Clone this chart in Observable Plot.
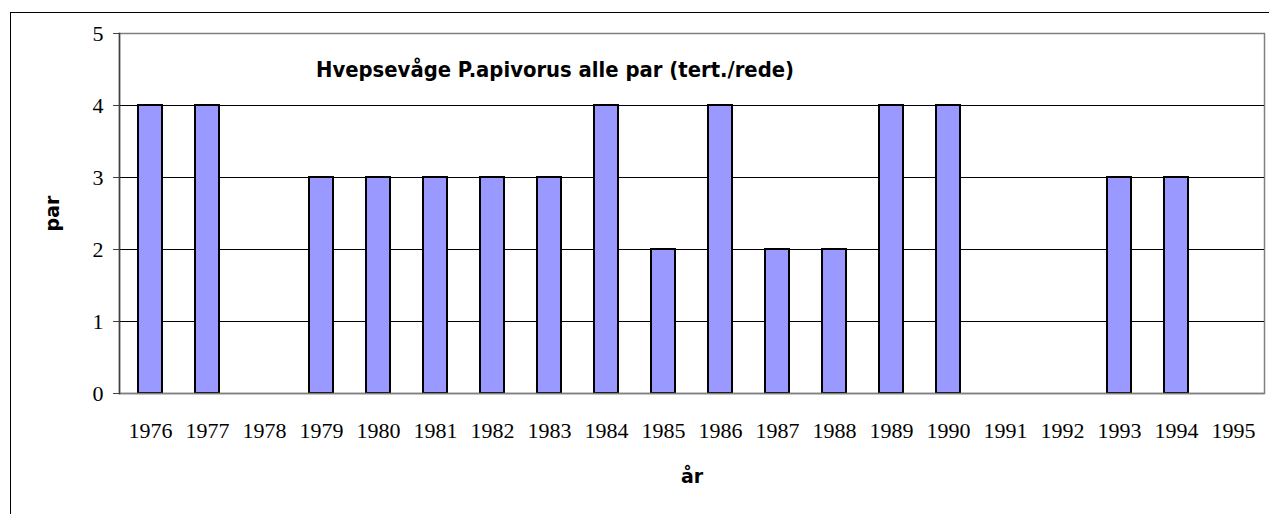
<!DOCTYPE html>
<html>
<head>
<meta charset="utf-8">
<script src="https://cdn.jsdelivr.net/npm/d3@7"></script>
<script src="https://cdn.jsdelivr.net/npm/@observablehq/plot@0.6"></script>
<style>
  html, body { margin: 0; padding: 0; background: #fff; }
  #wrap { position: relative; width: 1269px; height: 514px; overflow: hidden; }
  #border { position: absolute; left: 10px; top: 12px; width: 1300px; height: 600px; border-left: 1.5px solid #000; border-top: 1.5px solid #000; pointer-events: none; }
  #chart { position: absolute; left: 0; top: 0; }
</style>
</head>
<body>
<div id="wrap"><div id="chart"></div><div id="border"></div></div>
<script>
const years = ["1976","1977","1978","1979","1980","1981","1982","1983","1984","1985","1986","1987","1988","1989","1990","1991","1992","1993","1994","1995"];
const pairs = [4,4,0,3,3,3,3,3,4,2,4,2,2,4,4,0,0,3,3,0];
const yTicks = [0,1,2,3,4,5];
const titleText = "Hvepsevåge P.apivorus alle par (tert./rede)";
const yLabel = "par";
const xLabel = "år";

const data = years.map((y, i) => ({year: y, value: pairs[i]}));
const sans = "'DejaVu Sans', Verdana, sans-serif";

const chart = Plot.plot({
  width: 1269,
  height: 514,
  marginLeft: 119,
  marginRight: 5,
  marginTop: 33,
  marginBottom: 121,
  style: {fontFamily: "'Liberation Serif', 'Times New Roman', serif", fontSize: "22px", color: "#000", background: "transparent"},
  x: {type: "band", domain: years, paddingInner: 0.58, paddingOuter: 0.29, label: null},
  y: {domain: [0, 5], label: null},
  marks: [
    Plot.frame({stroke: "#808080", strokeWidth: 1.5}),
    Plot.ruleY([1,2,3,4], {stroke: "#000", strokeWidth: 1}),
    Plot.barY(data.filter(d => d.value > 0), {x: "year", y: "value", fill: "#9999FF", stroke: "#000", strokeWidth: 2}),
    Plot.ruleY([0], {stroke: "#808080", strokeWidth: 1.5}),
    Plot.frame({anchor: "left", stroke: "#404040", strokeWidth: 1.5}),
    Plot.axisY(yTicks, {tickSize: 6, tickPadding: 10, stroke: "#404040", tickFormat: d3.format("d"), fontSize: 22}),
    Plot.axisX({tickSize: 0, tickPadding: 29, fontSize: 22}),
    Plot.text([titleText], {frameAnchor: "top", dx: -137, dy: 43, lineAnchor: "bottom", fontFamily: sans, fontWeight: "bold", fontSize: 22, fill: "#000", className: "title-text"}),
    Plot.text([yLabel], {frameAnchor: "left", textAnchor: "middle", dx: -67, rotate: -90, fontFamily: sans, fontWeight: "bold", fontSize: 19, fill: "#000"}),
    Plot.text([xLabel], {frameAnchor: "bottom", dy: 89, lineAnchor: "bottom", fontFamily: sans, fontWeight: "bold", fontSize: 19, fill: "#000"})
  ]
});
document.getElementById("chart").appendChild(chart);
const t = chart.querySelector(".title-text text");
if (t) { t.setAttribute("textLength", "478"); t.setAttribute("lengthAdjust", "spacingAndGlyphs"); }
</script>
</body>
</html>
